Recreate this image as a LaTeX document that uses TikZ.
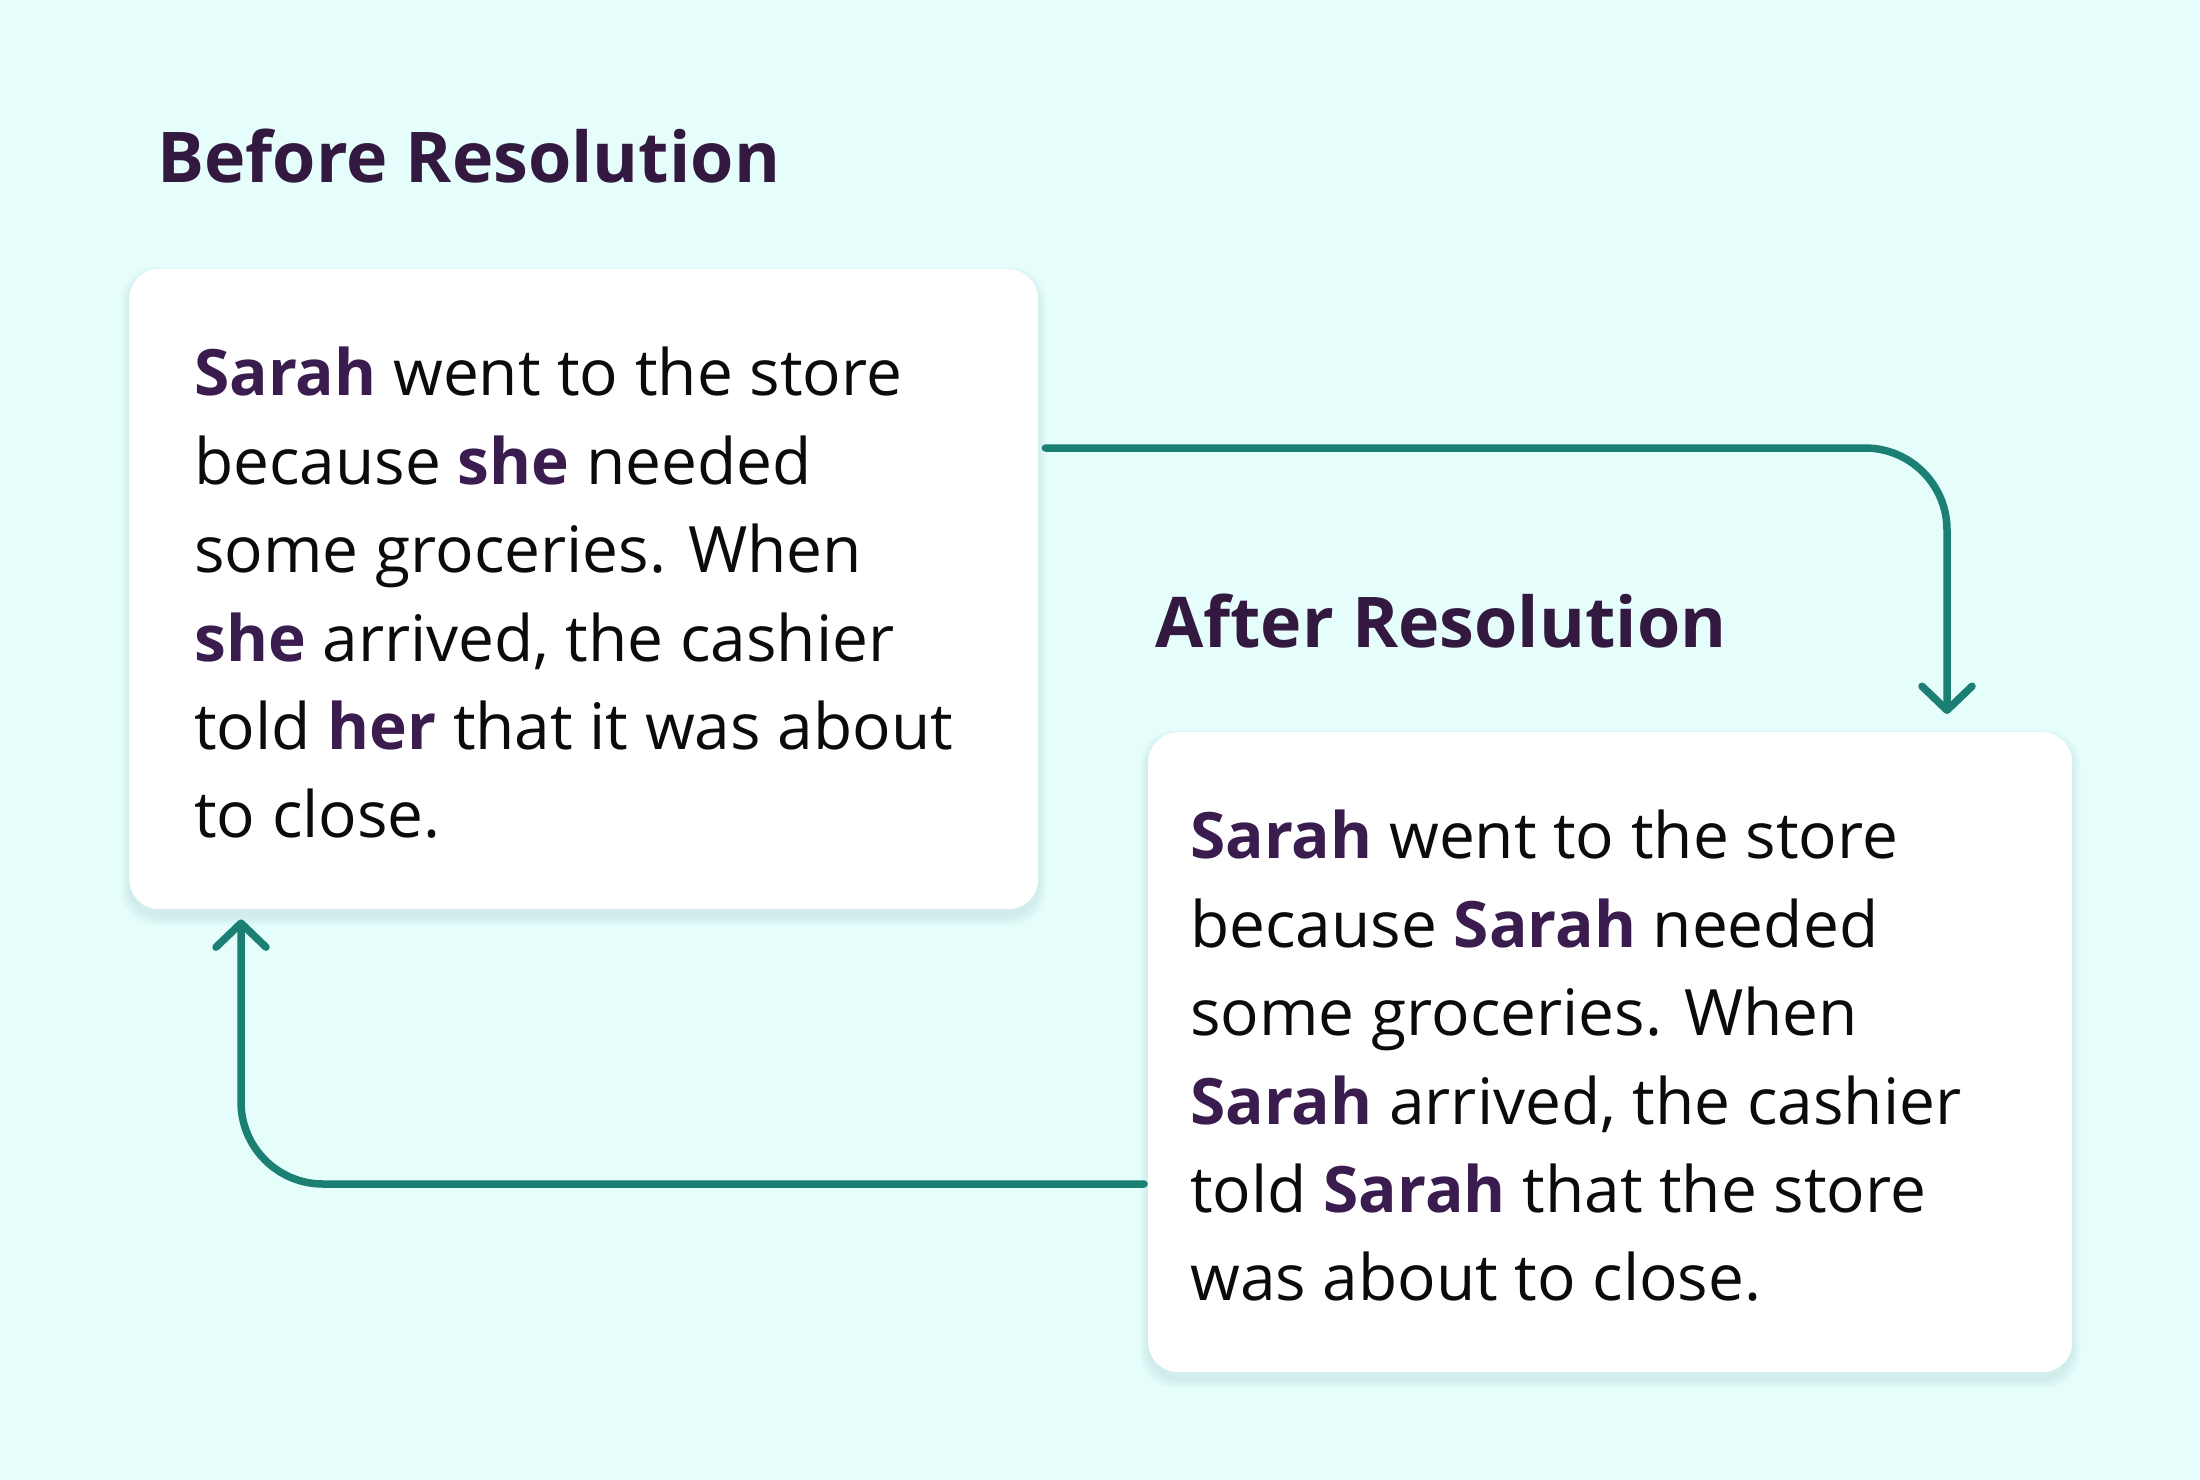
\documentclass[tikz,border=0pt]{standalone}
\usepackage{fontspec}
\setmainfont{Open Sans}
\usetikzlibrary{arrows.meta}
\definecolor{bgc}{HTML}{E5FDFB}
\definecolor{titlec}{HTML}{33183F}
\definecolor{namec}{HTML}{3A1C4E}
\definecolor{tealc}{HTML}{1B7F74}
\definecolor{txtc}{HTML}{0B0B0B}
\definecolor{shadc}{HTML}{9CCFC6}
\newcommand{\nm}[1]{\textbf{\color{namec}#1}}
\tikzset{
  card/.style={draw=none, fill=white, rounded corners=30pt, inner sep=0pt, anchor=north west},
  cardtext/.style={anchor=north west, inner sep=0pt, align=left, text=txtc,
    font=\fontsize{64}{88.4}\selectfont},
  heading/.style={anchor=base west, inner sep=0pt, text=titlec,
    font=\fontsize{70}{80}\selectfont\bfseries},
  conn/.style={draw=tealc, line width=7.5pt, line cap=round, line join=round, rounded corners=82pt,
    -{Straight Barb[length=24pt,width=50pt,line cap=round,line join=round]}},
}
\begin{document}
\begin{tikzpicture}[x=1pt,y=-1pt]
\useasboundingbox[fill=bgc] (0,0) rectangle (2200,1480);
% soft shadows
\foreach \i in {1,...,8}{
  \fill[shadc, opacity=0.03, rounded corners=34pt] (129-\i,269+6-\i) rectangle (1038+\i,909+8+\i);
  \fill[shadc, opacity=0.03, rounded corners=34pt] (1148-\i,732+6-\i) rectangle (2072+\i,1372+8+\i);
}
% cards
\node[card, minimum width=909pt, minimum height=640pt] (box1) at (129,269) {};
\node[card, minimum width=924pt, minimum height=640pt] (box2) at (1148,732) {};
% headings
\node[heading] (h1) at (157,182) {Before Resolution};
\node[heading] (h2) at (1155,647) {After Resolution};
% texts
\node[cardtext] (t1) at (194,347) {\nm{Sarah} went to the store\\
because \nm{she} needed\\
some groceries. When\\
\nm{she} arrived, the cashier\\
told \nm{her} that it was about\\
to close.};
\node[cardtext] (t2) at (1190,810) {\nm{Sarah} went to the store\\
because \nm{Sarah} needed\\
some groceries. When\\
\nm{Sarah} arrived, the cashier\\
told \nm{Sarah} that the store\\
was about to close.};
% connectors
\coordinate (a1s) at ([xshift=7pt]box1.east |- 0,448);
\coordinate (a1c) at (1947,448);
\coordinate (a1e) at ([yshift=18pt]box2.north -| a1c);
\coordinate (a2s) at ([xshift=-4pt]box2.west |- 0,1184);
\coordinate (a2c) at (241,1184);
\coordinate (a2e) at ([yshift=-10pt]box1.south -| a2c);
\draw[conn] (a1s) -- (a1c) -- (a1e);
\draw[conn] (a2s) -- (a2c) -- (a2e);
\end{tikzpicture}
\end{document}
